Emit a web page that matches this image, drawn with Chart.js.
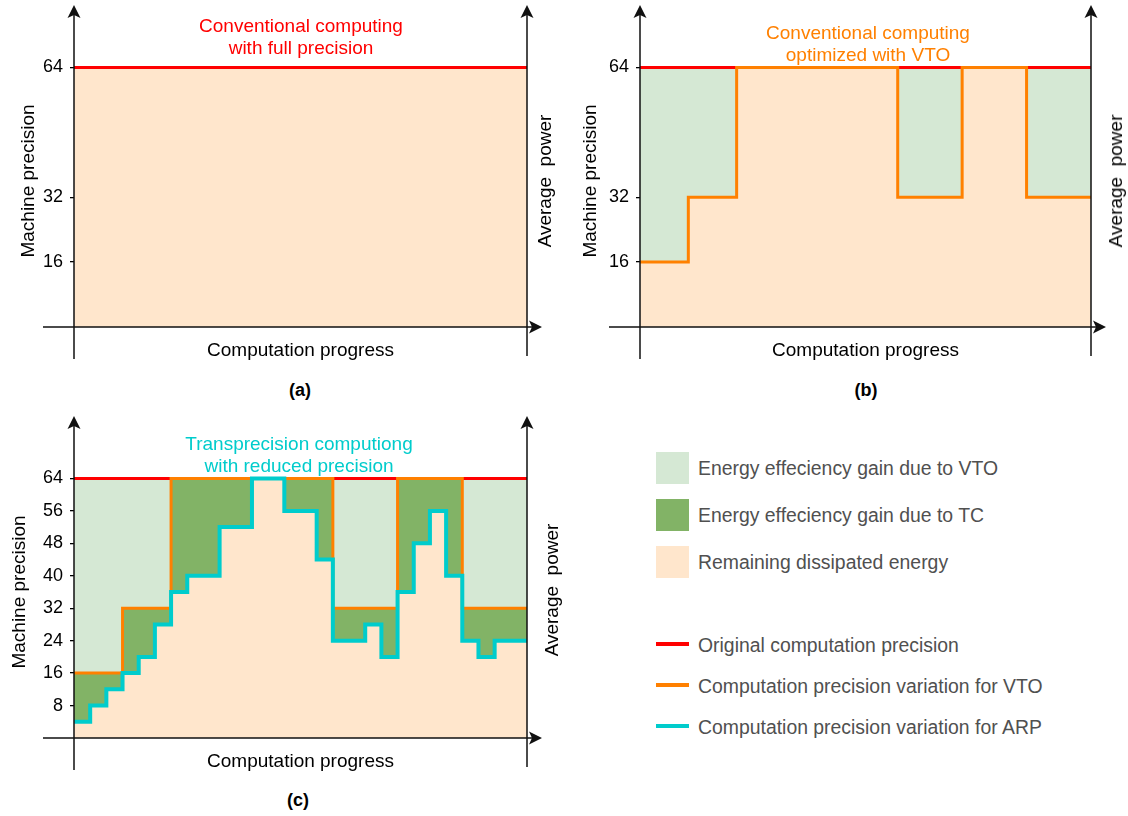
<!DOCTYPE html>
<html lang="en">
<head>
<meta charset="UTF-8">
<title>Conventional vs transprecision computing</title>
<style>
  body { margin: 0; background: #fff; font-family: "Liberation Sans", Arial, sans-serif; }
  #page { position: relative; width: 1128px; height: 816px; overflow: hidden; }
  canvas { position: absolute; }
  .note { position: absolute; width: 300px; text-align: center; font-size: 19px; line-height: 22px; }
  .tag { position: absolute; width: 60px; text-align: center; font-size: 18px; font-weight: bold; line-height: 20px; }
  .power { position: absolute; font-size: 19px; white-space: pre; color: #000;
           transform: translate(-50%, -50%) rotate(-90deg); }
  .sw { position: absolute; left: 656px; width: 33px; height: 32px; }
  .ln { position: absolute; left: 656px; width: 33px; height: 4px; }
  .kt { position: absolute; left: 698px; font-size: 19.4px; line-height: 22px; color: #505050; white-space: nowrap; }
</style>
<script src="https://cdn.jsdelivr.net/npm/chart.js"></script>
</head>
<body>
<div id="page">
  <canvas id="panelA" width="564" height="365" style="left:0;top:0"></canvas>
  <canvas id="panelB" width="564" height="365" style="left:564px;top:0"></canvas>
  <canvas id="panelC" width="564" height="365" style="left:0;top:411px"></canvas>

  <div class="note" style="left:151px;top:15px;color:#ff0000">Conventional computing<br>with full precision</div>
  <div class="note" style="left:718px;top:22px;color:#ff8000">Conventional computing<br>optimized with VTO</div>
  <div class="note" style="left:149px;top:433px;color:#00cccc">Transprecision computiong<br>with reduced precision</div>

  <div class="power" style="left:545px;top:181px">Average  power</div>
  <div class="power" style="left:1116px;top:181px">Average  power</div>
  <div class="power" style="left:552px;top:590px">Average  power</div>

  <div class="tag" style="left:270px;top:380px">(a)</div>
  <div class="tag" style="left:836px;top:380px">(b)</div>
  <div class="tag" style="left:268px;top:790px">(c)</div>

  <div class="sw" style="top:452px;background:#d5e8d4"></div>
  <div class="kt" style="top:457px">Energy effeciency gain due to VTO</div>
  <div class="sw" style="top:499px;background:#82b366"></div>
  <div class="kt" style="top:504px">Energy effeciency gain due to TC</div>
  <div class="sw" style="top:546px;background:#ffe6cc"></div>
  <div class="kt" style="top:551px">Remaining dissipated energy</div>

  <div class="ln" style="top:642px;background:#ff0000"></div>
  <div class="kt" style="top:634px">Original computation precision</div>
  <div class="ln" style="top:683px;background:#ff8000"></div>
  <div class="kt" style="top:675px">Computation precision variation for VTO</div>
  <div class="ln" style="top:724px;background:#00cccc"></div>
  <div class="kt" style="top:716px">Computation precision variation for ARP</div>
</div>

<script>
// computation progress runs 0..28 (arbitrary units), precision in bits
const progressEnd = 28;

// full precision (red)
const fullStarts = [0];
const fullLevels = [64];

// VTO precision steps (orange)
const vtoStarts = [0, 3, 6, 16, 20, 24];
const vtoLevels = [16, 32, 64, 32, 64, 32];

// transprecision / ARP precision steps (cyan)
const arpStarts = [0, 1, 2, 3, 4, 5, 6, 7, 9, 11, 13, 15, 16, 18, 19, 20, 21, 22, 23, 24, 25, 26];
const arpLevels = [4, 8, 12, 16, 20, 28, 36, 40, 52, 64, 56, 44, 24, 28, 20, 36, 48, 56, 40, 24, 20, 24];

const ticksAB = [16, 32, 64];
const ticksC = [8, 16, 24, 32, 40, 48, 56, 64];

const RED = '#ff0000', ORANGE = '#ff8000', CYAN = '#00cccc';
const PEACH = '#ffe6cc', LIGHT_GREEN = '#d5e8d4', DARK_GREEN = '#82b366';

Chart.defaults.font.family = "'Liberation Sans', Arial, sans-serif";

function stepPoints(starts, levels) {
    const pts = starts.map((s, i) => ({ x: s, y: levels[i] }));
    pts.push({ x: progressEnd, y: levels[levels.length - 1] });
    return pts;
}

function stepLine(label, starts, levels, color, width, fillColor) {
    return {
        label: label,
        data: stepPoints(starts, levels),
        borderColor: color,
        borderWidth: width,
        backgroundColor: fillColor,
        fill: 'origin',
        stepped: true,
        pointRadius: 0,
        borderJoinStyle: 'miter',
        borderCapStyle: 'butt'
    };
}

function arrowHead(ctx, tx, ty, dx, dy) {
    const len = 13, half = 6.5, notch = 3;
    const px = -dy, py = dx;
    ctx.beginPath();
    ctx.moveTo(tx, ty);
    ctx.lineTo(tx - dx * len + px * half, ty - dy * len + py * half);
    ctx.lineTo(tx - dx * (len - notch), ty - dy * (len - notch));
    ctx.lineTo(tx - dx * len - px * half, ty - dy * len - py * half);
    ctx.closePath();
    ctx.fill();
}

// black arrow axes like the original drawing
const axisArrows = {
    id: 'axisArrows',
    afterDraw(chart) {
        const ctx = chart.ctx;
        const x = chart.scales.x, y = chart.scales.y;
        const x0 = x.getPixelForValue(0), x1 = x.getPixelForValue(progressEnd);
        const y0 = y.getPixelForValue(0);
        const tipY = y0 - 322;
        ctx.save();
        ctx.strokeStyle = '#111';
        ctx.fillStyle = '#111';
        ctx.lineWidth = 1.5;
        ctx.beginPath();
        ctx.moveTo(x0, y0 + 32); ctx.lineTo(x0, tipY + 10);
        ctx.moveTo(x1, y0 + 29); ctx.lineTo(x1, tipY + 10);
        ctx.moveTo(x0 - 31, y0); ctx.lineTo(x1 + 5, y0);
        ctx.stroke();
        arrowHead(ctx, x0, tipY, 0, -1);
        arrowHead(ctx, x1, tipY, 0, -1);
        arrowHead(ctx, x1 + 15, y0, 1, 0);
        ctx.restore();
    }
};

function makePanel(id, datasets, yTicks, leftPad, yWidth) {
    return new Chart(document.getElementById(id), {
        type: 'line',
        data: { datasets: datasets },
        options: {
            responsive: false,
            animation: false,
            events: [],
            layout: { padding: { left: leftPad, right: 37, top: 35, bottom: 2.6 } },
            plugins: {
                legend: { display: false },
                tooltip: { enabled: false },
                filler: { drawTime: 'beforeDatasetsDraw' }
            },
            scales: {
                x: {
                    type: 'linear', min: 0, max: progressEnd,
                    ticks: { display: false },
                    grid: { display: false },
                    border: { display: false },
                    title: { display: true, text: 'Computation progress', color: '#000', font: { size: 19 }, padding: 0 },
                    afterFit: s => { s.height = 35.4; }
                },
                y: {
                    min: 0, max: 72,
                    afterBuildTicks: s => { s.ticks = yTicks.map(v => ({ value: v })); },
                    ticks: { color: '#000', font: { size: 18 }, padding: 7 },
                    grid: { drawOnChartArea: false, drawTicks: true, tickLength: 4, color: '#000', lineWidth: 1.3 },
                    border: { display: false },
                    title: { display: true, text: 'Machine precision', color: '#000', font: { size: 19 }, padding: 0 },
                    afterFit: s => { s.width = yWidth; }
                }
            }
        },
        plugins: [axisArrows]
    });
}

// datasets listed top line first; fills are painted last-to-first
makePanel('panelA', [
    stepLine('Original computation precision', fullStarts, fullLevels, RED, 3, PEACH)
], ticksAB, 17.5, 56.5);

makePanel('panelB', [
    stepLine('Computation precision variation for VTO', vtoStarts, vtoLevels, ORANGE, 3, PEACH),
    stepLine('Original computation precision', fullStarts, fullLevels, RED, 3, LIGHT_GREEN)
], ticksAB, 14.9, 61.1);

makePanel('panelC', [
    stepLine('Computation precision variation for ARP', arpStarts, arpLevels, CYAN, 4, PEACH),
    stepLine('Computation precision variation for VTO', vtoStarts, vtoLevels, ORANGE, 3, DARK_GREEN),
    stepLine('Original computation precision', fullStarts, fullLevels, RED, 3, LIGHT_GREEN)
], ticksC, 8.2, 65.8);
</script>
</body>
</html>
